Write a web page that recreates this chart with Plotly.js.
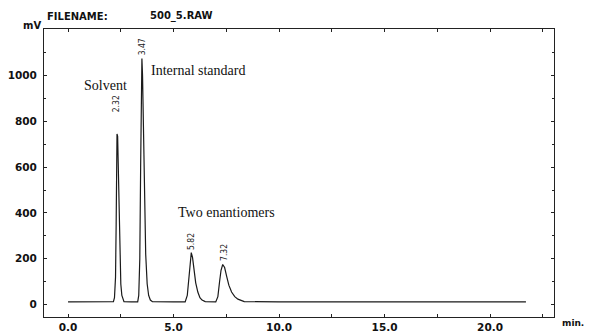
<!DOCTYPE html>
<html>
<head>
<meta charset="utf-8">
<script src="https://cdn.plot.ly/plotly-3.0.1.min.js"></script>
<style>html,body{margin:0;padding:0;background:#fff;}#chart{width:589px;height:332px;}</style>
</head>
<body>
<div id="chart"></div>
<script>
// Retention time (min) and detector signal (mV)
const rt = [0.0, 1.0, 2.0, 2.15, 2.2, 2.25, 2.28, 2.3, 2.32, 2.35, 2.38, 2.42, 2.46, 2.5, 2.55, 2.6, 2.65,
            3.0, 3.3, 3.35, 3.4, 3.44, 3.47, 3.5, 3.53, 3.57, 3.62, 3.68, 3.75, 3.82, 3.9, 4.0,
            5.0, 5.55, 5.65, 5.72, 5.78, 5.84, 5.9, 5.97, 6.05, 6.15, 6.25, 6.35, 6.5,
            7.0, 7.1, 7.18, 7.25, 7.33, 7.42, 7.52, 7.62, 7.75, 7.9, 8.05, 8.2, 8.35,
            10.0, 15.0, 20.0, 21.7];
const signal = [12, 12, 12, 13, 30, 120, 350, 600, 745, 735, 600, 400, 200, 90, 40, 20, 13,
                12, 12, 40, 200, 600, 950, 1074, 1000, 750, 450, 220, 90, 40, 20, 13,
                12, 12, 40, 120, 190, 227, 205, 150, 95, 55, 30, 20, 13,
                12, 35, 100, 150, 175, 162, 122, 85, 55, 35, 24, 17, 13,
                12, 12, 12, 12];
const peakLabels = ["2.32", "3.47", "5.82", "7.32"];
const compoundLabels = ["Solvent", "Internal standard", "Two enantiomers"];
const yTicks = [0, 200, 400, 600, 800, 1000];
const xTicks = [0, 5, 10, 15, 20];
const xTickText = ["0.0", "5.0", "10.0", "15.0", "20.0"];

const tickFont = {family: 'DejaVu Sans', size: 10.5, color: '#111', weight: 'bold'};
const serif = {family: 'Liberation Serif', size: 14, color: '#111'};
const small = {family: 'DejaVu Sans Condensed, DejaVu Sans', size: 8.5, color: '#222'};
const head = {family: 'DejaVu Sans', size: 10, weight: 'bold', color: '#111'};

const trace = {
  x: rt, y: signal, type: 'scatter', mode: 'lines',
  line: {color: '#1a1a1a', width: 1.2}, hoverinfo: 'skip'
};

const peakPos = [[2.31, 878], [3.49, 1126], [5.82, 277], [7.38, 229]];
const compPos = [[1.79, 956], [6.15, 1022], [7.53, 403]];

const annotations = [];
peakLabels.forEach((t, i) => annotations.push({
  x: peakPos[i][0], y: peakPos[i][1], xref: 'x', yref: 'y', text: t, textangle: -90,
  showarrow: false, font: small
}));
compoundLabels.forEach((t, i) => annotations.push({
  x: compPos[i][0], y: compPos[i][1], xref: 'x', yref: 'y', text: t,
  showarrow: false, font: serif
}));
annotations.push({x: 45, y: 16, xref: 'pixel', yref: 'pixel', text: 'FILENAME:', showarrow: false,
  xanchor: 'left', yanchor: 'middle', font: head});
annotations.push({x: 148, y: 16, xref: 'pixel', yref: 'pixel', text: '500_5.RAW', showarrow: false,
  xanchor: 'left', yanchor: 'middle', font: head});
annotations.push({x: 21, y: 25, xref: 'pixel', yref: 'pixel', text: 'mV', showarrow: false,
  xanchor: 'left', yanchor: 'middle', font: head});
annotations.push({x: 586, y: 323, xref: 'pixel', yref: 'pixel', text: 'min.', showarrow: false,
  xanchor: 'right', yanchor: 'middle', font: {family: 'DejaVu Sans', size: 9, weight: 'bold', color: '#111'}});

// convert pixel refs to paper refs
const W = 589, H = 332, M = {l: 44, r: 35, t: 29, b: 15};
annotations.forEach(a => {
  if (a.xref === 'pixel') {
    a.x = (a.x - M.l) / (W - M.l - M.r); a.xref = 'paper';
    a.y = 1 - (a.y - M.t) / (H - M.t - M.b); a.yref = 'paper';
  }
});

const layout = {
  width: W, height: H, margin: M, paper_bgcolor: '#fff', plot_bgcolor: '#fff',
  showlegend: false,
  xaxis: {
    range: [-1.14, 23.03], tickvals: xTicks, ticktext: xTickText, ticks: 'inside', ticklen: 3,
    tickcolor: '#222', showgrid: false, zeroline: false, showline: true, linecolor: '#222',
    linewidth: 1, mirror: 'allticks', tickfont: tickFont,
    minor: {dtick: 2.5, tick0: 0, ticks: 'inside', ticklen: 3, tickcolor: '#222', showgrid: false}
  },
  yaxis: {
    range: [-54, 1203], tickvals: yTicks, ticks: 'inside', ticklen: 3, tickcolor: '#222',
    showgrid: false, zeroline: false, showline: true, linecolor: '#222', linewidth: 1,
    mirror: 'allticks', tickfont: tickFont, ticklabelstandoff: 4,
    minor: {dtick: 100, tick0: 0, ticks: 'inside', ticklen: 2, tickcolor: '#222', showgrid: false}
  },
  annotations: annotations
};

Plotly.newPlot('chart', [trace], layout, {staticPlot: true, displayModeBar: false});
</script>
</body>
</html>
